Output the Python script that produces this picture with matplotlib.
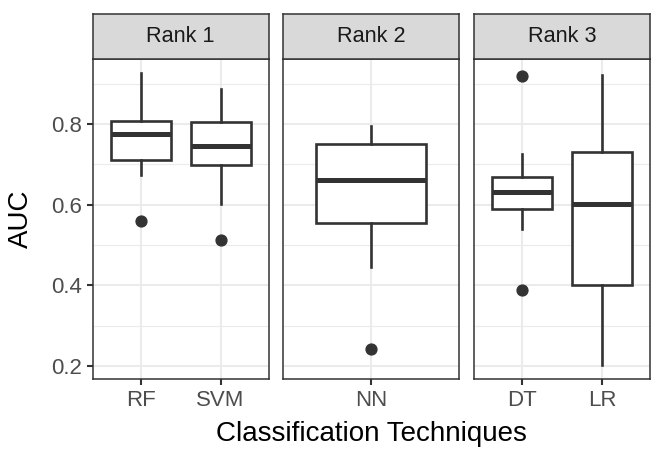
import matplotlib.pyplot as plt

plt.rcParams['font.family'] = ['Liberation Sans', 'DejaVu Sans']

# box statistics (AUC)
panels = ['Rank 1', 'Rank 2', 'Rank 3']
techniques = [['RF', 'SVM'], ['NN'], ['DT', 'LR']]
whislo = [[0.674, 0.601], [0.446], [0.540, 0.202]]
q1 = [[0.711, 0.698], [0.554], [0.588, 0.400]]
med = [[0.775, 0.746], [0.660], [0.631, 0.601]]
q3 = [[0.808, 0.804], [0.750], [0.669, 0.730]]
whishi = [[0.927, 0.887], [0.796], [0.726, 0.922]]
fliers = [[[0.560], [0.512]], [[0.241]], [[0.919, 0.387], []]]

dark = '#333333'
grid = '#EBEBEB'

fig = plt.figure(figsize=(6.64, 4.62), dpi=100)
W, H = 664, 462
lefts = [92.5, 283.3, 474]
pw = 176
top, bottom = 58.7, 379.3
strip_top = 14

for i, name in enumerate(panels):
    ax = fig.add_axes([lefts[i] / W, 1 - bottom / H, pw / W, (bottom - top) / H])
    n = len(techniques[i])
    stats = []
    for j in range(n):
        stats.append(dict(whislo=whislo[i][j], q1=q1[i][j], med=med[i][j],
                          q3=q3[i][j], whishi=whishi[i][j], fliers=fliers[i][j]))
    ax.bxp(stats, positions=list(range(1, n + 1)), widths=0.75, patch_artist=True,
           boxprops=dict(facecolor='white', edgecolor=dark, linewidth=1.9),
           whiskerprops=dict(color=dark, linewidth=1.9),
           capprops=dict(linewidth=0),
           medianprops=dict(color=dark, linewidth=3.6, solid_capstyle='butt'),
           flierprops=dict(marker='o', markerfacecolor=dark, markeredgecolor=dark,
                           markersize=7.8))
    ax.set_xlim(0.4, n + 0.6)
    ax.set_ylim(0.1667, 0.962)
    ax.set_yticks([0.2, 0.4, 0.6, 0.8])
    ax.set_yticks([0.3, 0.5, 0.7, 0.9], minor=True)
    ax.set_xticks(list(range(1, n + 1)))
    ax.set_xticklabels(techniques[i])
    ax.grid(True, which='major', color=grid, linewidth=1.5)
    ax.grid(True, which='minor', axis='y', color=grid, linewidth=0.8)
    ax.set_axisbelow(True)
    for s in ax.spines.values():
        s.set_color(dark)
        s.set_linewidth(1.1)
    ax.tick_params(axis='both', which='major', color=dark, length=4, width=1.5,
                   labelsize=16, labelcolor='#4D4D4D', pad=3.5)
    ax.tick_params(axis='y', which='minor', length=0)
    if i > 0:
        ax.tick_params(axis='y', which='major', left=False, labelleft=False)

    sax = fig.add_axes([lefts[i] / W, 1 - top / H, pw / W, (top - strip_top) / H])
    sax.set_facecolor('#D9D9D9')
    sax.set_xticks([])
    sax.set_yticks([])
    for s in sax.spines.values():
        s.set_color(dark)
        s.set_linewidth(1.1)
    sax.text(0.5, 0.5, name, ha='center', va='center', fontsize=15.6,
             color='#1A1A1A', transform=sax.transAxes)

fig.text(21 / W, 1 - 219 / H, 'AUC', rotation=90, ha='center', va='center',
         fontsize=20, color='black')
fig.text(371 / W, 1 - 434 / H, 'Classification Techniques', ha='center', va='center',
         fontsize=20, color='black')

fig.savefig('out.png', dpi=100)
